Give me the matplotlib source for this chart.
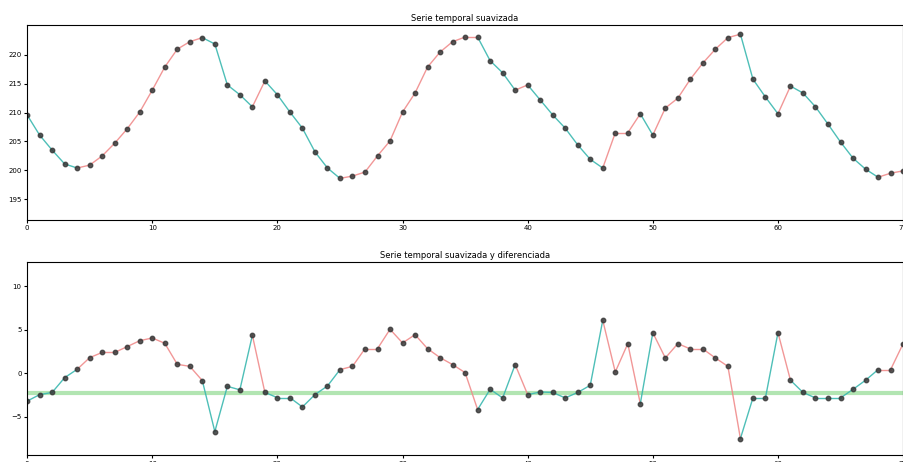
import matplotlib
matplotlib.use("Agg")
import matplotlib.pyplot as plt
import numpy as np

# serie suavizada
suavizada = [209.6, 206.1, 203.5, 201.1, 200.4, 200.9, 202.5, 204.7, 207.2, 210.1,
             213.9, 217.9, 221.0, 222.3, 223.0, 221.9, 214.8, 213.1, 211.0, 215.5,
             213.1, 210.1, 207.3, 203.2, 200.4, 198.6, 199.0, 199.7, 202.5, 205.1,
             210.1, 213.4, 217.9, 220.5, 222.3, 223.1, 223.1, 219.0, 216.9, 213.9,
             214.8, 212.2, 209.6, 207.3, 204.4, 201.9, 200.4, 206.5, 206.5, 209.8,
             206.1, 210.8, 212.5, 215.8, 218.6, 221.0, 223.0, 223.6, 215.8, 212.7,
             209.8, 214.6, 213.4, 211.0, 208.0, 204.9, 202.1, 200.2, 198.8, 199.5,
             199.9]

# serie suavizada y diferenciada
diferenciada = [-3.2, -2.45, -2.2, -0.5, 0.46, 1.8, 2.4, 2.4, 3.07, 3.75,
                4.06, 3.45, 1.03, 0.8, -0.84, -6.7, -1.5, -1.9, 4.37, -2.2,
                -2.8, -2.8, -3.87, -2.45, -1.46, 0.42, 0.8, 2.83, 2.83, 5.06,
                3.49, 4.44, 2.83, 1.8, 1.0, 0.08, -4.17, -1.84, -2.83, 1.0,
                -2.45, -2.15, -2.2, -2.83, -2.2, -1.38, 6.09, 0.15, 3.41, -3.49,
                4.67, 1.76, 3.41, 2.8, 2.8, 1.76, 0.8, -7.5, -2.83, -2.83,
                4.67, -0.8, -2.2, -2.83, -2.83, -2.83, -1.84, -0.8, 0.42, 0.42,
                3.4]

umbral = -2.3
top_ticks = [195, 200, 205, 210, 215, 220]
bottom_ticks = [-5, 0, 5, 10]

x = np.arange(len(suavizada))
sube = np.array(diferenciada) >= 0

fig = plt.figure(figsize=(9.04, 4.62), dpi=100)
ax1 = fig.add_axes([0.030, 0.524, 0.969, 0.422])
ax2 = fig.add_axes([0.030, 0.015, 0.969, 0.418])


def colored_line(ax, xs, ys):
    for i in range(len(xs) - 1):
        c = '#f08c8c' if sube[i] else '#3bb8b0'
        ax.plot(xs[i:i + 2], ys[i:i + 2], color=c, lw=1.0, alpha=0.9)
    ax.plot(xs, ys, 'o', color='#3a3a3a', ms=3.2, alpha=0.85)


colored_line(ax1, x, suavizada)
ax1.set_title('Serie temporal suavizada', fontsize=6, pad=3)
ax1.set_xlim(0, 70)
ax1.set_ylim(191.4, 225.2)
ax1.set_yticks(top_ticks)
ax1.set_xticks(range(0, 71, 10))

colored_line(ax2, x, diferenciada)
ax2.axhline(umbral, color='#7fd47f', lw=3, alpha=0.6, zorder=0)
ax2.set_title('Serie temporal suavizada y diferenciada', fontsize=6, pad=3)
ax2.set_xlim(0, 70)
ax2.set_ylim(-9.4, 12.8)
ax2.set_yticks(bottom_ticks)
ax2.set_xticks(range(0, 71, 10))

for ax in (ax1, ax2):
    ax.tick_params(labelsize=5, length=2.5, pad=1.5)

plt.savefig('out.png', dpi=100)
